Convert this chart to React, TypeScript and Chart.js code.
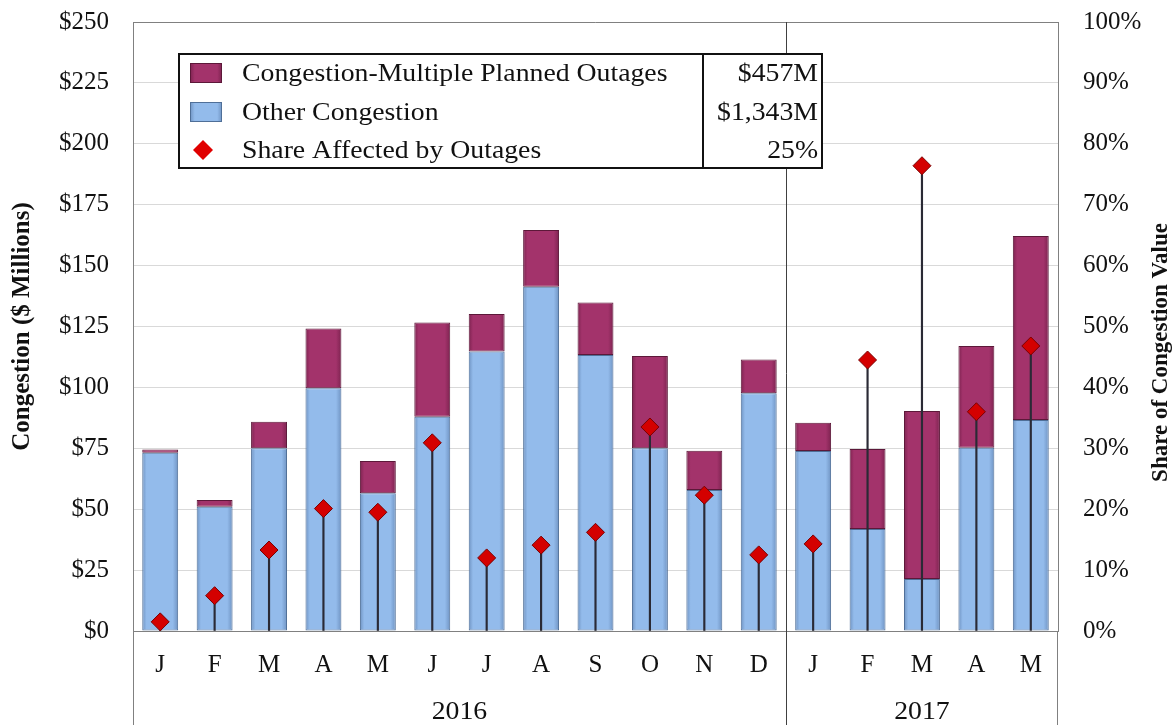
import React, { useEffect, useRef } from "react";
import { Chart, registerables } from "chart.js";

Chart.register(...registerables);

const months = ["J", "F", "M", "A", "M", "J", "J", "A", "S", "O", "N", "D", "J", "F", "M", "A", "M"];
const yearLabels = ["2016", "2017"];
const yearMonthCounts = [12, 5];

const otherCongestion = [73.2, 51.0, 75.0, 99.6, 56.5, 88.0, 114.7, 141.3, 113.3, 75.0, 57.9, 97.6, 73.9, 41.9, 21.3, 75.2, 86.6];
const outageCongestion = [1.3, 2.8, 10.9, 24.6, 13.3, 38.6, 15.4, 23.3, 21.6, 37.9, 16.1, 13.9, 11.6, 32.8, 69.0, 41.8, 75.6];
const shareAffected = [1.5, 5.8, 13.3, 20.1, 19.5, 30.9, 12.0, 14.1, 16.2, 33.5, 22.3, 12.5, 14.3, 44.5, 76.4, 36.0, 46.8];

const legendLabels = ["Congestion-Multiple Planned Outages", "Other Congestion", "Share Affected by Outages"];
const legendValues = ["$457M", "$1,343M", "25%"];

const FONT = "'Liberation Serif', 'Times New Roman', serif";
const BLUE = "#93bbeb";
const BLUE_EDGE = "#6f93c2";
const BLUE_BORDER = "#4f6f98";
const MAROON = "#a3336b";
const MAROON_EDGE = "#7d2350";
const MAROON_BORDER = "#5c1839";
const RED = "#d40000";
const RED_BORDER = "#7a0000";
const STRETCH = 1.11;

function barGradient(base: string, edge: string) {
  return (c: any) => {
    const chart = c.chart;
    const xs = chart.scales && chart.scales.x;
    if (!xs || c.dataIndex === undefined) return base;
    const step = xs.getPixelForValue(1) - xs.getPixelForValue(0);
    const cx = xs.getPixelForValue(c.dataIndex);
    const w = step * 0.66;
    if (!isFinite(cx) || !isFinite(w)) return base;
    const g = chart.ctx.createLinearGradient(cx - w / 2, 0, cx + w / 2, 0);
    g.addColorStop(0, edge);
    g.addColorStop(0.12, base);
    g.addColorStop(0.85, base);
    g.addColorStop(1, edge);
    return g;
  };
}

function stretchedText(ctx: any, text: string, x: number, y: number, align: string) {
  ctx.save();
  ctx.translate(x, y);
  ctx.scale(STRETCH, 1);
  ctx.textAlign = align;
  ctx.fillText(text, 0, 0);
  ctx.restore();
}

const decorPlugin = {
  id: "decor",
  afterDraw(chart: any) {
    const { ctx, chartArea, scales } = chart;
    const H = chart.height;
    const xs = scales.x;
    const step = xs.getPixelForValue(1) - xs.getPixelForValue(0);
    ctx.save();
    ctx.strokeStyle = "#808080";
    ctx.lineWidth = 1;
    ctx.beginPath();
    ctx.moveTo(chartArea.left, chartArea.top + 0.5);
    ctx.lineTo(chartArea.right, chartArea.top + 0.5);
    ctx.stroke();
    ctx.beginPath();
    ctx.moveTo(chartArea.left + 0.5, chartArea.bottom);
    ctx.lineTo(chartArea.left + 0.5, H);
    ctx.moveTo(chartArea.right - 0.5, chartArea.bottom);
    ctx.lineTo(chartArea.right - 0.5, H);
    ctx.stroke();
    let start = 0;
    let leftEdge = chartArea.left;
    yearLabels.forEach((label, i) => {
      const end = start + yearMonthCounts[i] - 1;
      const rightEdge = i === yearLabels.length - 1 ? chartArea.right : xs.getPixelForValue(end) + step / 2;
      if (i < yearLabels.length - 1) {
        ctx.strokeStyle = "#404040";
        ctx.beginPath();
        ctx.moveTo(Math.round(rightEdge) + 0.5, chartArea.top);
        ctx.lineTo(Math.round(rightEdge) + 0.5, H);
        ctx.stroke();
      }
      ctx.fillStyle = "#111";
      ctx.font = `25px ${FONT}`;
      ctx.textBaseline = "middle";
      stretchedText(ctx, label, (leftEdge + rightEdge) / 2, chartArea.bottom + 81, "center");
      leftEdge = rightEdge;
      start = end + 1;
    });
    ctx.save();
    ctx.translate(chart.width - 13, (chartArea.top + chartArea.bottom) / 2 + 26);
    ctx.rotate(-Math.PI / 2);
    ctx.font = `bold 23px ${FONT}`;
    ctx.fillStyle = "#111";
    ctx.textAlign = "center";
    ctx.textBaseline = "middle";
    ctx.fillText("Share of Congestion Value", 0, 0);
    ctx.restore();

    const bx = chartArea.left + 46;
    const by = chartArea.top + 32;
    const bw = 643;
    const bh = 114;
    const divX = bx + 524;
    ctx.fillStyle = "#ffffff";
    ctx.fillRect(bx, by, bw, bh);
    ctx.strokeStyle = "#111";
    ctx.lineWidth = 2;
    ctx.strokeRect(bx, by, bw, bh);
    ctx.beginPath();
    ctx.moveTo(divX, by);
    ctx.lineTo(divX, by + bh);
    ctx.stroke();
    const rowY = [by + 19, by + 58, by + 96];
    ctx.font = `25px ${FONT}`;
    ctx.textBaseline = "middle";
    legendLabels.forEach((lab, i) => {
      const cy = rowY[i];
      if (i < 2) {
        const g = ctx.createLinearGradient(bx + 11, 0, bx + 43, 0);
        g.addColorStop(0, i === 0 ? MAROON_EDGE : BLUE_EDGE);
        g.addColorStop(0.15, i === 0 ? MAROON : BLUE);
        g.addColorStop(0.85, i === 0 ? MAROON : BLUE);
        g.addColorStop(1, i === 0 ? MAROON_EDGE : BLUE_EDGE);
        ctx.fillStyle = g;
        ctx.strokeStyle = i === 0 ? MAROON_BORDER : BLUE_BORDER;
        ctx.lineWidth = 1;
        ctx.fillRect(bx + 11, cy - 10, 32, 20);
        ctx.strokeRect(bx + 11.5, cy - 9.5, 31, 19);
      } else {
        ctx.fillStyle = "#e00000";
        ctx.beginPath();
        ctx.moveTo(bx + 24, cy - 10);
        ctx.lineTo(bx + 34, cy);
        ctx.lineTo(bx + 24, cy + 10);
        ctx.lineTo(bx + 14, cy);
        ctx.closePath();
        ctx.fill();
      }
      ctx.fillStyle = "#111";
      stretchedText(ctx, lab, bx + 63, cy + 1, "left");
      stretchedText(ctx, legendValues[i], bx + bw - 4, cy + 1, "right");
    });
    ctx.restore();
  },
};

export default function App() {
  const ref = useRef<HTMLCanvasElement | null>(null);
  useEffect(() => {
    if (!ref.current) return;
    const chart = new Chart(ref.current, {
      type: "bar",
      data: {
        labels: months,
        datasets: [
          {
            type: "line",
            label: legendLabels[2],
            data: shareAffected,
            yAxisID: "y1",
            showLine: false,
            pointStyle: "rectRot",
            pointRadius: 9,
            pointBackgroundColor: RED,
            pointBorderColor: RED_BORDER,
            pointBorderWidth: 1,
            order: 0,
          } as any,
          {
            type: "bar",
            label: "drop",
            data: shareAffected.map((s) => [0, s]),
            yAxisID: "y1",
            grouped: false,
            barThickness: 1.5,
            backgroundColor: "#2a2a35",
            borderWidth: 0,
            order: 1,
          } as any,
          {
            label: legendLabels[1],
            data: otherCongestion,
            yAxisID: "y",
            backgroundColor: barGradient(BLUE, BLUE_EDGE),
            borderColor: BLUE_BORDER,
            borderWidth: 1,
            borderSkipped: false,
            barPercentage: 0.66,
            categoryPercentage: 1,
            order: 2,
          },
          {
            label: legendLabels[0],
            data: outageCongestion,
            yAxisID: "y",
            backgroundColor: barGradient(MAROON, MAROON_EDGE),
            borderColor: MAROON_BORDER,
            borderWidth: 1,
            borderSkipped: false,
            barPercentage: 0.66,
            categoryPercentage: 1,
            order: 2,
          },
        ],
      },
      options: {
        responsive: false,
        animation: false,
        layout: { padding: { top: 22, left: 0, right: 0, bottom: 0 } },
        plugins: { legend: { display: false }, tooltip: { enabled: false } },
        scales: {
          x: {
            stacked: true,
            grid: { display: false, drawTicks: false },
            border: { display: true, color: "#808080" },
            ticks: { font: { family: FONT, size: 25 }, color: "#111", padding: 19, maxRotation: 0, autoSkip: false },
            afterFit: (s: any) => { s.height = 94; },
          },
          y: {
            stacked: true,
            position: "left",
            min: 0,
            max: 250,
            grid: { color: "#d9d9d9", drawTicks: false },
            border: { display: true, color: "#808080" },
            ticks: {
              stepSize: 25,
              padding: 24,
              font: { family: FONT, size: 25 },
              color: "#111",
              callback: (v: any) => "$" + v,
            },
            title: {
              display: true,
              text: "Congestion ($ Millions)",
              font: { family: FONT, size: 25, weight: "bold" },
              color: "#111",
              padding: { top: 8, bottom: 0 },
            },
            afterFit: (s: any) => { s.width = 133; s.paddingTop = 12; s.paddingBottom = 12; },
          },
          y1: {
            position: "right",
            min: 0,
            max: 100,
            grid: { drawOnChartArea: false, drawTicks: false },
            border: { display: true, color: "#808080" },
            ticks: {
              stepSize: 10,
              padding: 25,
              font: { family: FONT, size: 25 },
              color: "#111",
              callback: (v: any) => v + "%",
            },
            afterFit: (s: any) => { s.width = 116; s.paddingTop = 12; s.paddingBottom = 12; },
          },
        },
      },
      plugins: [decorPlugin],
    });
    return () => chart.destroy();
  }, []);
  return (
    <div style={{ position: "absolute", left: 0, top: 0, width: 1174, height: 725, background: "#fff" }}>
      <canvas ref={ref} width={1174} height={725} style={{ display: "block" }} />
    </div>
  );
}
